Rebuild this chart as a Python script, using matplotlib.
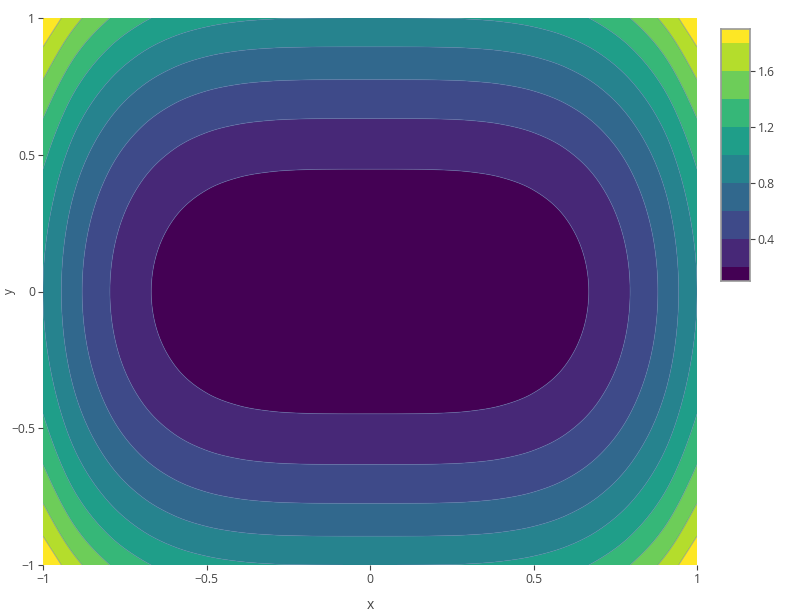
import numpy as np
import matplotlib
matplotlib.use("Agg")
import matplotlib.pyplot as plt
from matplotlib.colors import ListedColormap, BoundaryNorm, to_rgb, to_hex

plt.rcParams['font.family'] = ['Open Sans', 'DejaVu Sans']

# ---- data (grid: 21 x 21 points, step 0.1) ----
x_values = [-1.0, -0.9, -0.8, -0.7, -0.6, -0.5, -0.4, -0.3, -0.2, -0.1, 0.0,
            0.1, 0.2, 0.3, 0.4, 0.5, 0.6, 0.7, 0.8, 0.9, 1.0]
y_values = [-1.0, -0.9, -0.8, -0.7, -0.6, -0.5, -0.4, -0.3, -0.2, -0.1, 0.0,
            0.1, 0.2, 0.3, 0.4, 0.5, 0.6, 0.7, 0.8, 0.9, 1.0]
# contribution of x (quartic-like profile) and of y (quadratic-like profile)
x_term = [1.0, 0.6561, 0.4096, 0.2401, 0.1296, 0.0625, 0.0256, 0.0081, 0.0016, 0.0001, 0.0,
          0.0001, 0.0016, 0.0081, 0.0256, 0.0625, 0.1296, 0.2401, 0.4096, 0.6561, 1.0]
y_term = [1.0, 0.81, 0.64, 0.49, 0.36, 0.25, 0.16, 0.09, 0.04, 0.01, 0.0,
          0.01, 0.04, 0.09, 0.16, 0.25, 0.36, 0.49, 0.64, 0.81, 1.0]

levels = [-0.01, 0.2, 0.4, 0.6, 0.8, 1.0, 1.2, 1.4, 1.6, 1.8, 2.01]
line_levels = [0.2, 0.4, 0.6, 0.8, 1.0, 1.2, 1.4, 1.6, 1.8]
cbar_edges = [0.1, 0.2, 0.4, 0.6, 0.8, 1.0, 1.2, 1.4, 1.6, 1.8, 1.9]
cbar_ticks = [0.4, 0.8, 1.2, 1.6]
cbar_labels = ['0.4', '0.8', '1.2', '1.6']
axis_ticks = [-1, -0.5, 0, 0.5, 1]
axis_labels = ['\u22121', '\u22120.5', '0', '0.5', '1']

# plotly "Viridis" colour scale stops
viridis_pos = [i * 16 / 255 for i in range(16)] + [1.0]
viridis_hex = ['#440154', '#48186a', '#472d7b', '#424086', '#3b528b', '#33638d',
               '#2c728e', '#26828e', '#21918c', '#1fa088', '#28ae80', '#3fbc73',
               '#5ec962', '#84d44b', '#addc30', '#d8e219', '#fde725']


def scale_color(f):
    rgb = np.array([to_rgb(c) for c in viridis_hex])
    return to_hex([np.interp(f, viridis_pos, rgb[:, k]) for k in range(3)])


n_bands = len(levels) - 1
band_colors = [scale_color(k / (n_bands - 1)) for k in range(n_bands)]


# ---- smoothing (like plotly's contour smoothing) : Catmull-Rom upsampling ----
def cr_matrix(n, factor):
    m = (n - 1) * factor + 1
    E = np.zeros((n + 2, n))
    E[1:n + 1, :] = np.eye(n)
    E[0, 0], E[0, 1] = 2, -1
    E[n + 1, n - 1], E[n + 1, n - 2] = 2, -1
    M = np.zeros((m, n + 2))
    u = np.linspace(0, n - 1, m)
    for r, uu in enumerate(u):
        i = min(int(np.floor(uu)), n - 2)
        t = uu - i
        w = [(-t**3 + 2 * t**2 - t) / 2, (3 * t**3 - 5 * t**2 + 2) / 2,
             (-3 * t**3 + 4 * t**2 + t) / 2, (t**3 - t**2) / 2]
        for k in range(4):
            M[r, i + k] += w[k]
    return M @ E


X = np.array(x_values)
Y = np.array(y_values)
Z = np.add.outer(np.array(y_term), np.array(x_term))
Mx = cr_matrix(len(X), 20)
My = cr_matrix(len(Y), 20)
Xf = Mx @ X
Yf = My @ Y
Zf = My @ Z @ Mx.T

# ---- figure ----
W, H = 793, 616
fig = plt.figure(figsize=(W / 100, H / 100), dpi=100)
L, R, T, B = 43, 697, 18, 565
ax = fig.add_axes([L / W, (H - B) / H, (R - L) / W, (B - T) / H])

cmap = ListedColormap(band_colors)
norm = BoundaryNorm(levels, cmap.N)
ax.contourf(Xf, Yf, Zf, levels=levels, cmap=cmap, norm=norm, antialiased=True)
ax.contour(Xf, Yf, Zf, levels=line_levels, colors='#5a72a8', linewidths=0.6, alpha=0.55)

ax.set_xlim(-1, 1)
ax.set_ylim(-1, 1)
for s in ax.spines.values():
    s.set_visible(False)

tick_col = '#444444'
ax.set_xticks(axis_ticks)
ax.set_xticklabels(axis_labels)
ax.set_yticks(axis_ticks)
ax.set_yticklabels(axis_labels)
ax.tick_params(axis='both', direction='out', length=3.6, width=0.8,
               color=tick_col, labelcolor=tick_col, labelsize=8.7, pad=2)
ax.set_xlabel('x', fontsize=10, color=tick_col, labelpad=9)
ax.set_ylabel('y', fontsize=8.5, color=tick_col)
ax.yaxis.set_label_coords(-27 / (R - L), 0.5)

# ---- colorbar (plotly-style) ----
cx0, cx1, cy0, cy1 = 721, 750, 29, 281
cax = fig.add_axes([cx0 / W, (H - cy1) / H, (cx1 - cx0) / W, (cy1 - cy0) / H])
band_idx = np.arange(len(band_colors)).reshape(-1, 1)
cax.pcolormesh([0, 1], cbar_edges, band_idx, cmap=cmap, vmin=-0.5,
               vmax=len(band_colors) - 0.5, shading='flat')
cax.set_xlim(0, 1)
cax.set_ylim(cbar_edges[0], cbar_edges[-1])
cax.set_xticks([])
cax.yaxis.tick_right()
cax.set_yticks(cbar_ticks)
cax.set_yticklabels(cbar_labels)
cax.tick_params(axis='y', direction='out', length=3.6, width=0.8,
                color=tick_col, labelcolor=tick_col, labelsize=8.7, pad=2)
for s in cax.spines.values():
    s.set_color('#999999')
    s.set_linewidth(1.2)

fig.savefig('out.png', dpi=100)
